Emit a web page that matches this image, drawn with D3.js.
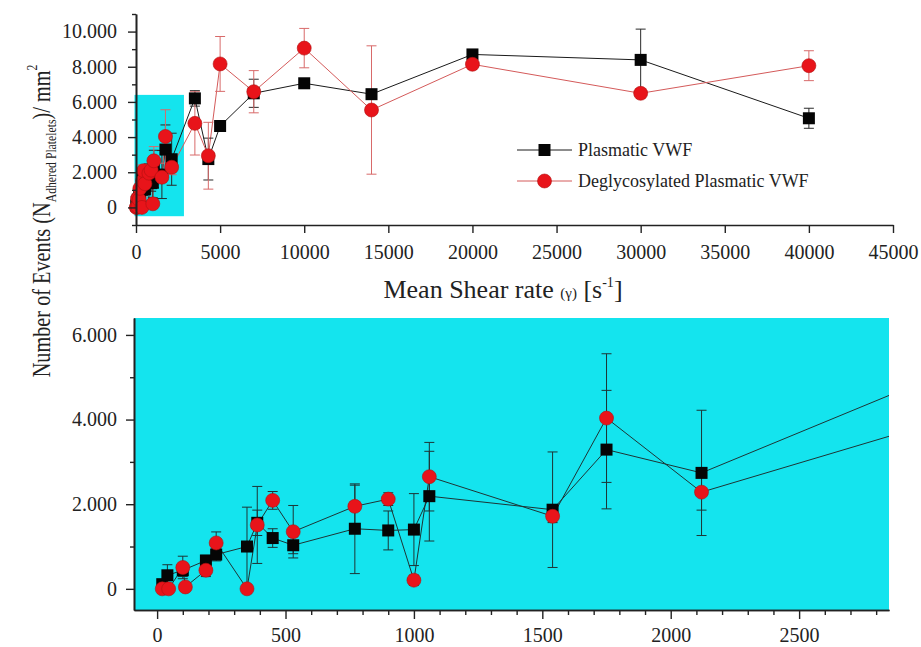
<!DOCTYPE html>
<html>
<head>
<meta charset="utf-8">
<script src="https://cdn.jsdelivr.net/npm/d3@7"></script>
<style>
    body { margin: 0; background: #fff; }
    text { font-family: "Liberation Serif", "Times New Roman", "DejaVu Serif", serif; }
</style>
</head>
<body>
<div id="chart"></div>
<script>
// Plasmatic VWF (black squares)
const plasmaShear = [20, 40, 100, 190, 230, 350, 390, 450, 530, 770, 900, 1000, 1060, 1540, 1750, 2120,
    3500, 4300, 5000, 7000, 10000, 14000, 20000, 30000, 40000];
const plasmaMean = [110, 320, 440, 670, 810, 1000, 1560, 1200, 1030, 1420, 1380, 1400, 2190, 1870, 3290, 2740,
    6200, 2750, 4630, 6490, 7060, 6440, 8700, 8390, 5070];
const plasmaErr = [60, 250, 150, 120, 150, 930, 300, 220, 200, 1060, 460, 850, 1060, 1365, 1400, 1480,
    440, 1190, 150, 800, 150, 150, 150, 1750, 570];

// Deglycosylated Plasmatic VWF (red circles)
const degShear = [20, 45, 100, 110, 190, 230, 350, 390, 450, 530, 770, 900, 1000, 1060, 1540, 1750, 2120,
    3500, 4300, 5000, 7000, 10000, 14000, 20000, 30000, 40000];
const degMean = [0, 0, 505, 45, 440, 1085, 0, 1510, 2090, 1350, 1950, 2120, 205, 2650, 1715, 4035, 2285,
    4780, 2940, 8160, 6580, 9060, 5540, 8140, 6490, 8060];
const degErr = [0, 0, 266, 0, 150, 260, 0, 910, 210, 620, 500, 150, 120, 810, 150, 1520, 425,
    1800, 1900, 1560, 1200, 1120, 3650, 150, 150, 850];

const seriesNames = ["Plasmatic VWF", "Deglycosylated Plasmatic VWF"];

// Tick labels
const overviewXTicks = [0, 5000, 10000, 15000, 20000, 25000, 30000, 35000, 40000, 45000];
const overviewYTicks = [0, 2000, 4000, 6000, 8000, 10000];
const zoomXTicks = [0, 500, 1000, 1500, 2000, 2500];
const zoomYTicks = [0, 2000, 4000, 6000];

// Window shown in the lower (zoomed) panel
const zoomXDomain = [-90, 2850];
const zoomYDomain = [-500, 6400];

const CYAN = '#14e4ee';
const FONT = '"Liberation Serif", "Times New Roman", "DejaVu Serif", serif';

function toPoints(shear, mean, err) {
    return shear.map(function (s, i) {
        return {x: s, y: mean[i], e: err[i]};
    });
}

let series = [
    {name: seriesNames[0], points: toPoints(plasmaShear, plasmaMean, plasmaErr),
        shape: 'square', fill: '#050505', line: '#1a1a1a', bar: '#2a2a2a'},
    {name: seriesNames[1], points: toPoints(degShear, degMean, degErr),
        shape: 'circle', fill: '#e8141a', line: '#d45a5a', bar: '#d86a6a'}
];

let thousands = function (v) {
    return d3.format(",")(v).replace(/,/g, ".");
};

let svg = d3.select('#chart')
    .append("svg")
    .attr("width", 921)
    .attr("height", 647);

function styleAxis(g, size) {
    g.attr("font-size", size)
        .attr("font-family", FONT)
        .attr("color", "#222");
    g.select(".domain").attr("stroke-width", 1.6);
    g.selectAll(".tick line").attr("stroke-width", 1.4);
}

function drawData(g, x, y, opts) {
    let lineGenerator = d3.line()
        .x(function (d) { return x(d.x); })
        .y(function (d) { return y(d.y); });

    // Lines
    series.forEach(function (s) {
        g.append("path")
            .datum(s.points)
            .attr("fill", "none")
            .attr("stroke", opts.lineColor || s.line)
            .attr("stroke-width", 1)
            .attr("d", lineGenerator);
    });

    // Error bars
    series.forEach(function (s) {
        let bars = g.append("g")
            .attr("stroke", opts.barColor || s.bar)
            .attr("stroke-width", 1)
            .selectAll("g")
            .data(s.points.filter(function (d) { return d.e > 0; }))
            .join("g");
        bars.append("line")
            .attr("x1", function (d) { return x(d.x); })
            .attr("x2", function (d) { return x(d.x); })
            .attr("y1", function (d) { return y(d.y - d.e); })
            .attr("y2", function (d) { return y(d.y + d.e); });
        [-1, 1].forEach(function (sign) {
            bars.append("line")
                .attr("x1", function (d) { return x(d.x) - 5; })
                .attr("x2", function (d) { return x(d.x) + 5; })
                .attr("y1", function (d) { return y(d.y + sign * d.e); })
                .attr("y2", function (d) { return y(d.y + sign * d.e); });
        });
    });

    // Markers
    series.forEach(function (s) {
        let marks = g.append("g")
            .selectAll(".mark")
            .data(s.points)
            .join(s.shape === 'square' ? "rect" : "circle")
            .attr("fill", s.fill);
        if (s.shape === 'square') {
            marks.attr("x", function (d) { return x(d.x) - 6; })
                .attr("y", function (d) { return y(d.y) - 6; })
                .attr("width", 12)
                .attr("height", 12);
        } else {
            marks.attr("cx", function (d) { return x(d.x); })
                .attr("cy", function (d) { return y(d.y); })
                .attr("r", 7)
                .attr("stroke", "#b01010")
                .attr("stroke-width", 0.6);
        }
    });
}

// ---------- Upper panel: full shear range ----------
let x1 = d3.scaleLinear().domain([0, 45000]).range([136, 893]);
let y1 = d3.scaleLinear().domain([-1000, 11000]).range([225, 14]);

// Cyan box marking the zoomed window
svg.append("rect")
    .attr("x", x1(zoomXDomain[0]))
    .attr("y", y1(zoomYDomain[1]))
    .attr("width", x1(zoomXDomain[1]) - x1(zoomXDomain[0]))
    .attr("height", y1(zoomYDomain[0]) - y1(zoomYDomain[1]))
    .attr("fill", CYAN);

drawData(svg.append("g"), x1, y1, {});

// Add X axis
svg.append("g")
    .attr("transform", "translate(0," + 225 + ")")
    .call(d3.axisBottom(x1).tickValues(overviewXTicks).tickSize(8).tickSizeOuter(0).tickPadding(12)
        .tickFormat(d3.format("d")))
    .call(styleAxis, 20);

// Add Y axis (minor then major)
svg.append("g")
    .attr("transform", "translate(" + 136 + ",0)")
    .call(d3.axisLeft(y1).tickValues(d3.range(-1000, 11001, 2000)).tickSize(4).tickSizeOuter(0)
        .tickFormat(""))
    .call(styleAxis, 20);
svg.append("g")
    .attr("transform", "translate(" + 136 + ",0)")
    .call(d3.axisLeft(y1).tickValues(overviewYTicks).tickSize(8).tickSizeOuter(0).tickPadding(11)
        .tickFormat(thousands))
    .call(styleAxis, 20);

// Legend
let legend = svg.append("g").attr("transform", "translate(517,150)");
series.forEach(function (s, i) {
    let row = legend.append("g").attr("transform", "translate(0," + (i * 31) + ")");
    row.append("line")
        .attr("x1", 0).attr("x2", 55)
        .attr("stroke", s.line).attr("stroke-width", 1);
    if (s.shape === 'square') {
        row.append("rect").attr("x", 21.5).attr("y", -6).attr("width", 12).attr("height", 12)
            .attr("fill", s.fill);
    } else {
        row.append("circle").attr("cx", 27.5).attr("r", 7).attr("fill", s.fill)
            .attr("stroke", "#b01010").attr("stroke-width", 0.6);
    }
    row.append("text")
        .attr("x", 61).attr("y", 6)
        .attr("font-size", 18).attr("fill", "#222")
        .text(s.name);
});

// X title
let xTitle = svg.append("text")
    .attr("x", 503).attr("y", 298)
    .attr("text-anchor", "middle")
    .attr("font-size", 26).attr("fill", "#222");
xTitle.append("tspan").text("Mean Shear rate ");
xTitle.append("tspan").attr("font-size", 15).text("(γ)");
xTitle.append("tspan").text(" [s");
xTitle.append("tspan").attr("font-size", 14).attr("dy", -11).text("-1");
xTitle.append("tspan").attr("dy", 11).text("]");

// ---------- Lower panel: zoomed low-shear window ----------
let x2 = d3.scaleLinear().domain(zoomXDomain).range([134, 889]);
let y2 = d3.scaleLinear().domain(zoomYDomain).range([610, 318]);

svg.append("rect")
    .attr("x", 134).attr("y", 318)
    .attr("width", 889 - 134).attr("height", 610 - 318)
    .attr("fill", CYAN);

svg.append("defs").append("clipPath")
    .attr("id", "clip")
    .append("rect")
    .attr("x", 134).attr("y", 318)
    .attr("width", 889 - 134).attr("height", 610 - 318);

drawData(svg.append("g").attr("clip-path", "url(#clip)"), x2, y2,
    {lineColor: '#1d3435', barColor: '#1d3435'});

// Add X axis (minor then major)
svg.append("g")
    .attr("transform", "translate(0," + 610 + ")")
    .call(d3.axisBottom(x2).tickValues(d3.range(100, 2801, 100).filter(function (v) { return v % 500; }))
        .tickSize(5).tickSizeOuter(0).tickFormat(""))
    .call(styleAxis, 20);
svg.append("g")
    .attr("transform", "translate(0," + 610 + ")")
    .call(d3.axisBottom(x2).tickValues(zoomXTicks).tickSize(9).tickSizeOuter(0).tickPadding(9)
        .tickFormat(d3.format("d")))
    .call(styleAxis, 20);

// Add Y axis (minor then major)
svg.append("g")
    .attr("transform", "translate(" + 134 + ",0)")
    .call(d3.axisLeft(y2).tickValues([1000, 3000, 5000]).tickSize(4).tickSizeOuter(0).tickFormat(""))
    .call(styleAxis, 20);
svg.append("g")
    .attr("transform", "translate(" + 134 + ",0)")
    .call(d3.axisLeft(y2).tickValues(zoomYTicks).tickSize(8).tickSizeOuter(0).tickPadding(9)
        .tickFormat(thousands))
    .call(styleAxis, 20);

// Shared Y title
let yTitle = svg.append("text")
    .attr("transform", "translate(50,221) rotate(-90) scale(0.78,1)")
    .attr("text-anchor", "middle")
    .attr("font-size", 26).attr("fill", "#222");
yTitle.append("tspan").text("Number of Events (N");
yTitle.append("tspan").attr("font-size", 15).attr("dy", 6).text("Adhered Platelets");
yTitle.append("tspan").attr("dy", -6).text(")/ mm");
yTitle.append("tspan").attr("font-size", 15).attr("dy", -13).text("2");
</script>
</body>
</html>
